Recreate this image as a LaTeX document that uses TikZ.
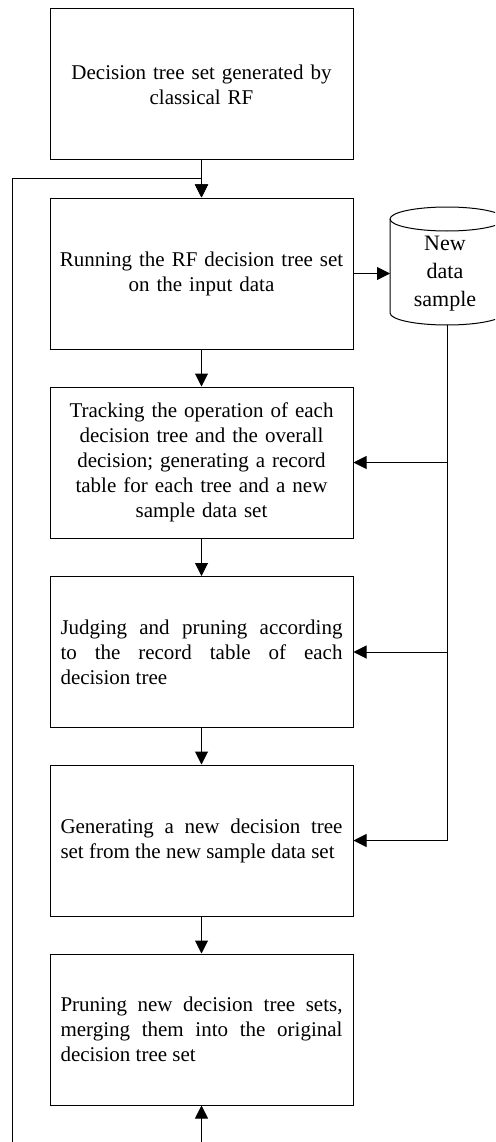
\documentclass[tikz,border=0pt]{standalone}
\usepackage{fontspec}
\setmainfont{Liberation Serif}
\usetikzlibrary{arrows.meta}
\begin{document}
\begin{tikzpicture}[x=1pt,y=-1pt,
  box/.style={draw, line width=1pt, minimum width=303pt, minimum height=151pt,
    inner sep=0pt, font=\fontsize{21}{25}\selectfont},
  cbox/.style={box, text width=295pt, align=center},
  jbox/.style={box, text width=282pt, align=justify},
  line/.style={line width=1pt},
  arr/.style={line, -{Triangle[length=13pt,width=13pt]}}]
\clip (0,0) rectangle (495,1142);
\fill[white] (0,0) rectangle (495,1142);

\node[cbox] (b1) at (201.5,84.5) {Decision tree set generated by\\classical RF};
\node[cbox] (b2) at (201.5,273.5) {Running the RF decision tree set\\on the input data};
\node[cbox] (b3) at (201.5,462.5) {Tracking the operation of each\\decision tree and the overall\\decision; generating a record\\table for each tree and a new\\sample data set};
\node[jbox] (b4) at (201.5,652) {\hbadness=10000 Judging and pruning according\linebreak to the record table of each\linebreak decision tree};
\node[jbox] (b5) at (201.5,840.5) {\hbadness=10000 Generating a new decision tree\linebreak set from the new sample data set};
\node[jbox] (b6) at (201.5,1029.5) {\hbadness=10000 Pruning new decision tree sets,\linebreak merging them into the original\linebreak decision tree set};

% cylinder
\draw[line, fill=white] (390,219) -- (390,313) arc[start angle=180, end angle=360, x radius=57, y radius=-12] -- (504,219) arc[start angle=0, end angle=180, x radius=57, y radius=-12] -- cycle;
\draw[line] (390,219) arc[start angle=180, end angle=360, x radius=57, y radius=-12];
\node[font=\fontsize{22}{28}\selectfont, align=center, inner sep=0pt, minimum width=114pt, minimum height=106pt] (cyl) at (445,274) {New\\data\\sample};
\coordinate (cylb) at (447,325);
\coordinate (c3) at (447,462.5);
\coordinate (c4) at (447,652);
\coordinate (c5) at (447,840.5);

% main flow
\draw[arr] (b1) -- (b2);
\draw[arr] (b2) -- (b3);
\draw[arr] (b3) -- (b4);
\draw[arr] (b4) -- (b5);
\draw[arr] (b5) -- (b6);
\draw[arr] (b2.east) -- (b2.east -| 390,0);

% data branch
\draw[line] (cylb) -- (c5);
\draw[arr] (c3) -- (b3.east);
\draw[arr] (c4) -- (b4.east);
\draw[arr] (c5) -- (b5.east);

% loop
\coordinate (lb) at (12.5,1142);
\coordinate (lt) at (12.5,179);
\coordinate (j1) at (201.5,179);
\coordinate (bb) at (201.5,1142);
\draw[arr] (lb) -- (lt) -- (j1) -- (b2.north);
\draw[arr] (bb) -- (b6.south);
\end{tikzpicture}
\end{document}
